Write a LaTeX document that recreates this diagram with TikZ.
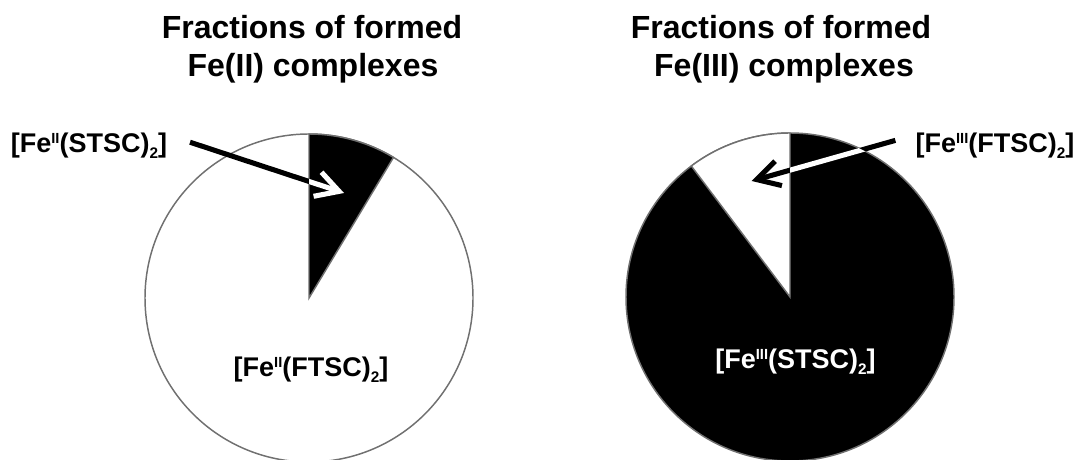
\documentclass[tikz,border=0pt]{standalone}
\usepackage{fontspec}
\setmainfont{Liberation Sans}
\usetikzlibrary{arrows.meta}
\newcommand\oxs[1]{\raisebox{6.8pt}{\fontsize{11}{11}\selectfont #1}}
\newcommand\idxs[1]{\raisebox{-4.5pt}{\fontsize{11.5}{11.5}\selectfont #1}}
\definecolor{rimgray}{HTML}{707070}
\tikzset{
  titletext/.style={font=\fontsize{24}{28}\selectfont\bfseries, inner sep=0pt, anchor=base},
  labeltext/.style={font=\fontsize{20.25}{24}\selectfont\bfseries, inner sep=0pt, anchor=base},
  rim/.style={draw=rimgray, line width=1.1pt},
  arr/.style={line width=3.8pt, -{Straight Barb[length=17pt,width=19pt]}},
}
\begin{document}
\begin{tikzpicture}[x=0.75pt,y=0.75pt]
\useasboundingbox (0,0) rectangle (1078,460);
% titles
\node[titletext] (tL1) at (312,421) {Fractions of formed};
\node[titletext] (tL2) at (313,383) {Fe(II) complexes};
\node[titletext] (tR1) at (781,421) {Fractions of formed};
\node[titletext] (tR2) at (784,383) {Fe(III) complexes};
% centres
\coordinate (cL) at (309,162);
\coordinate (cR) at (790,163);
% left pie
\fill[white] (cL) circle (164);
\draw[rim] (cL) circle (164);
\filldraw[fill=black, rim] (cL) -- ++(59:164) arc (59:90:164) -- cycle;
% right pie
\filldraw[fill=black, rim] (cR) circle (164);
\filldraw[fill=white, rim] (cR) -- ++(90:164) arc (90:127:164) -- cycle;
% labels
\node[labeltext] (lblL) at (89,307) {[Fe\oxs{II}(STSC)\idxs{2}]};
\node[labeltext] (lblR) at (995,307.5) {[Fe\oxs{III}(FTSC)\idxs{2}]};
\node[labeltext, text=black] (inL) at (311,83) {[Fe\oxs{II}(FTSC)\idxs{2}]};
\node[labeltext, text=white] (inR) at (795.5,91) {[Fe\oxs{III}(STSC)\idxs{2}]};
% arrow tips
\coordinate (tipL) at (344,267);
\coordinate (tipR) at (751.7,279);
% left arrow
\draw[arr, black] ([xshift=17pt,yshift=3pt]lblL.east) -- (tipL);
\begin{scope}
  \clip (cL) -- ++(59:164) arc (59:90:164) -- cycle;
  \draw[arr, white] ([xshift=17pt,yshift=3pt]lblL.east) -- (tipL);
\end{scope}
% right arrow
\draw[arr, black] ([xshift=-15pt,yshift=4pt]lblR.west) -- (tipR);
\begin{scope}
  \clip (cR) -- ++(127:164) arc (127:450:164) -- cycle;
  \draw[arr, white] ([xshift=-15pt,yshift=4pt]lblR.west) -- (tipR);
\end{scope}
\end{tikzpicture}
\end{document}
